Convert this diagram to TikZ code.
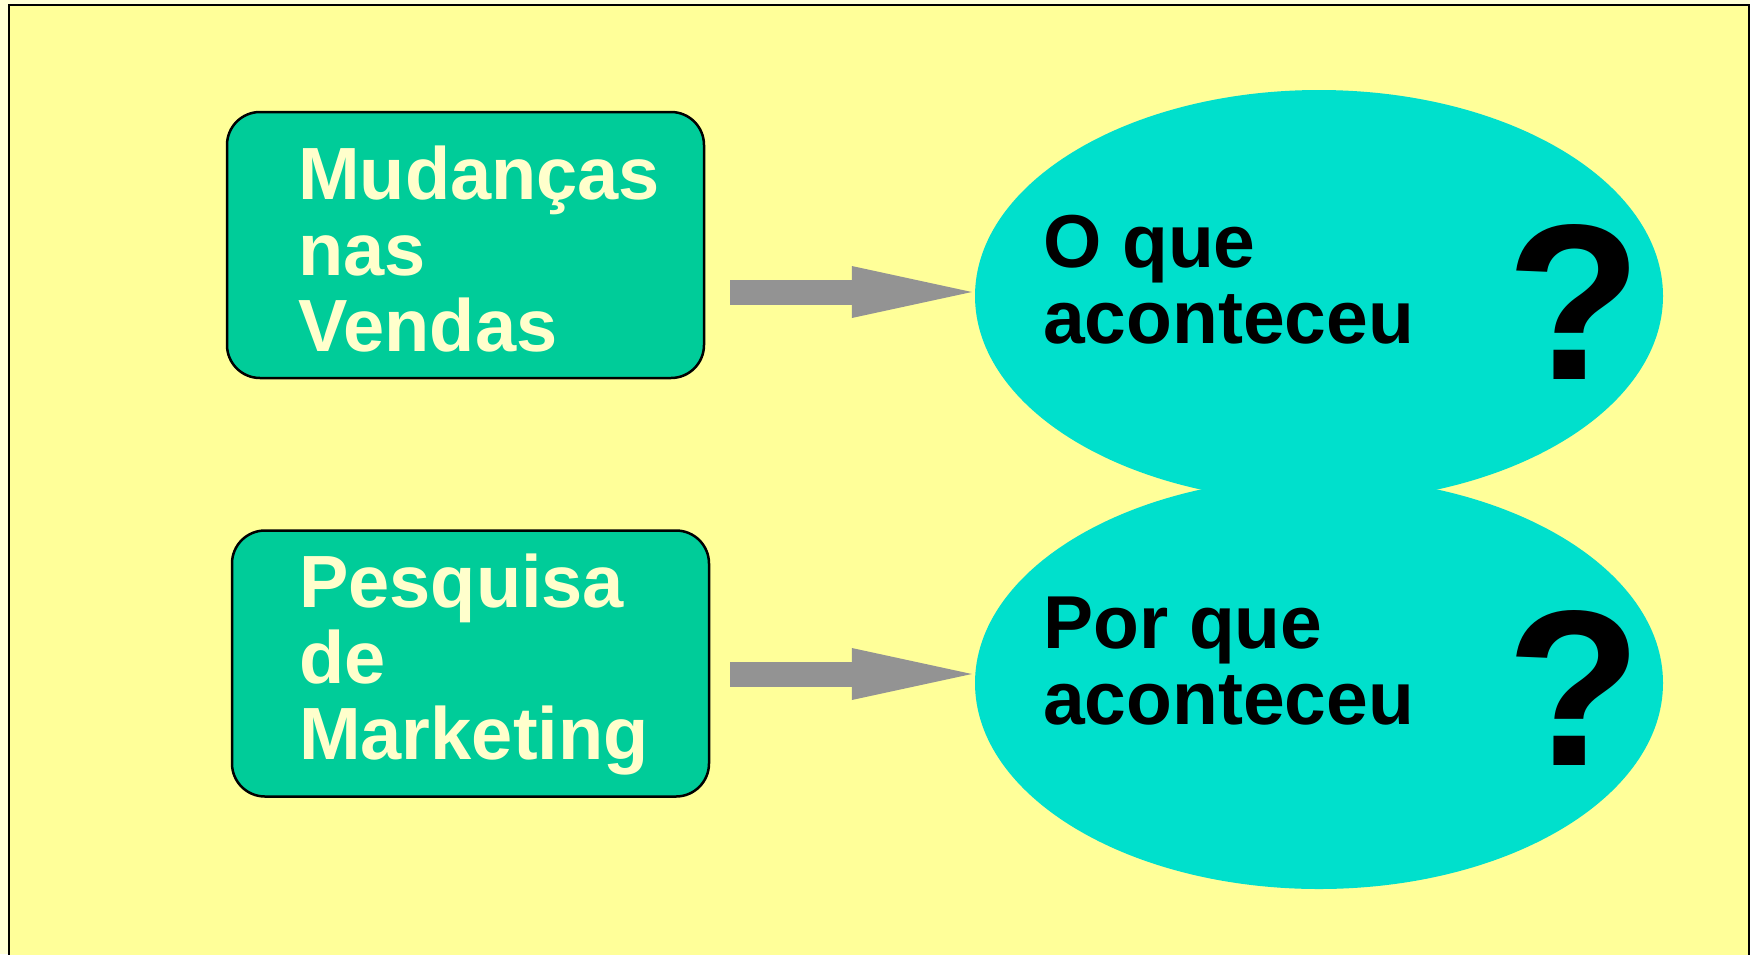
\documentclass[tikz,border=0pt]{standalone}
\usepackage{fontspec}
\setmainfont{Liberation Sans}
\usetikzlibrary{shapes.geometric,arrows.meta}
\definecolor{paleyel}{HTML}{FFFFD6}
\definecolor{bgyel}{HTML}{FFFF99}
\definecolor{boxgreen}{HTML}{00CC99}
\definecolor{txtcream}{HTML}{FFFFCC}
\definecolor{cyanell}{HTML}{00E0CC}
\definecolor{arrgray}{HTML}{939393}
\tikzset{
  greenbox/.style={draw=black, line width=2.5pt, fill=boxgreen, rounded corners=33pt,
    minimum width=477pt, minimum height=266pt, inner sep=0pt},
  bigell/.style={ellipse, fill=cyanell, minimum width=688pt, minimum height=412pt, inner sep=0pt},
  boxtext/.style={anchor=north west, inner sep=0pt, align=left, text=txtcream,
    font=\fontsize{74}{76}\selectfont\bfseries},
  elltext/.style={anchor=north west, inner sep=0pt, align=left, text=black,
    font=\fontsize{75}{76}\selectfont\bfseries},
  qmark/.style={anchor=base west, inner sep=0pt, text=black,
    font=\fontsize{222}{222}\selectfont\bfseries},
  fatarrow/.style={draw=arrgray, line width=25pt,
    -{Triangle[length=120pt,width=52pt,line width=0pt]}, arrgray}
}
\begin{document}
\begin{tikzpicture}[x=1pt,y=-1pt]
\useasboundingbox (0,0) rectangle (1750,954);
\fill[paleyel] (0,0) rectangle (1750,954);
\draw[line width=2.5pt, fill=bgyel] (9,5) rectangle (1749,970);
% ellipses
\node[bigell] (e1) at (1319,296) {};
\node[bigell] (e2) at (1319,683) {};
% boxes
\node[greenbox] (b1) at (465.5,245) {};
\node[greenbox] (b2) at (470.5,663.5) {};
% box texts
\node[boxtext] (t1) at (298,146) {Mudanças\\nas\\Vendas};
\node[boxtext] (t2) at (299,554) {Pesquisa\\de\\Marketing};
% ellipse texts
\node[elltext] (q1) at (1043,215) {O que\\aconteceu};
\node[elltext] (q2) at (1043,597) {Por que\\aconteceu};
\node[qmark] (m1) at (1506,379) {?};
\node[qmark] (m2) at (1506,765) {?};
% arrows
\draw[fatarrow] ([xshift=25pt,yshift=4pt]b1.east |- e1.west) -- ([xshift=-3pt,yshift=4pt]e1.west);
\draw[fatarrow] ([xshift=20pt,yshift=9pt]b2.east |- e2.west) -- ([xshift=-3pt,yshift=9pt]e2.west);
\end{tikzpicture}
\end{document}
